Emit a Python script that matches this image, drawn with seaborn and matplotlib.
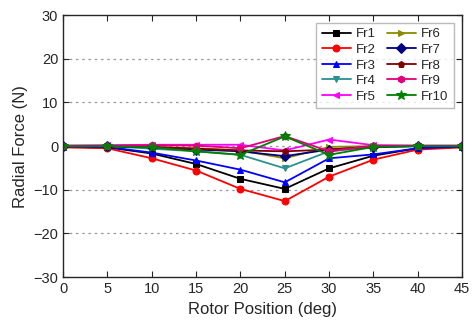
import numpy as np
import pandas as pd
import seaborn as sns
import matplotlib
matplotlib.use("Agg")
import matplotlib.pyplot as plt

# =========================
# DATA
# =========================
positions = [0, 5, 10, 15, 20, 25, 30, 35, 40, 45]

fr1 = [-0.2, -0.3, -1.7, -4.1, -7.5, -9.8, -5.1, -2.2, -0.5, -0.2]
fr2 = [-0.3, -0.5, -2.8, -5.6, -9.8, -12.6, -7.0, -3.1, -0.8, -0.3]
fr3 = [-0.1, -0.2, -1.5, -3.3, -5.4, -8.3, -2.8, -1.9, -0.5, -0.1]
fr4 = [0.0, 0.0, -0.6, -1.2, -2.0, -5.1, -1.2, -0.3, 0.0, 0.0]
fr5 = [0.1, 0.2, 0.3, 0.3, 0.3, -1.0, 1.5, 0.2, 0.1, 0.1]
fr6 = [0.0, 0.0, -0.2, -0.5, -1.0, -2.8, -0.2, 0.0, 0.0, 0.0]
fr7 = [0.0, 0.0, -0.3, -0.8, -1.2, -2.3, -0.8, -0.2, 0.0, 0.0]
fr8 = [0.0, 0.0, -0.2, -0.6, -1.0, -1.2, -0.8, -0.1, 0.0, 0.0]
fr9 = [0.1, 0.1, 0.2, 0.1, -0.5, 2.3, -1.2, 0.1, 0.1, 0.1]
fr10 = [0.0, 0.0, -0.3, -1.2, -2.0, 2.2, -2.0, -0.2, 0.0, 0.0]

names = ["Fr1", "Fr2", "Fr3", "Fr4", "Fr5", "Fr6", "Fr7", "Fr8", "Fr9", "Fr10"]
series = [fr1, fr2, fr3, fr4, fr5, fr6, fr7, fr8, fr9, fr10]
colors = ["black", "#ff0000", "#0000ff", "#2a9090", "#ff00ff",
          "#8a8a00", "#000080", "#800000", "#e0007a", "#008000"]
markers = ["s", "o", "^", "v", "<", ">", "D", "p", "h", "*"]

df = pd.DataFrame({"pos": positions * len(names),
                   "force": np.concatenate(series),
                   "name": np.repeat(names, len(positions))})

# =========================
# PLOT
# =========================
sns.set_style("ticks")
plt.rcParams['font.family'] = ['Liberation Sans', 'DejaVu Sans']

fig = plt.figure(figsize=(4.74, 3.2), dpi=100)
ax = fig.add_axes([0.133, 0.134, 0.842, 0.819])

for name, c, m in zip(names, colors, markers):
    sns.lineplot(data=df[df["name"] == name], x="pos", y="force", ax=ax,
                 color=c, marker=m, markersize=5 if m != "*" else 7,
                 markeredgecolor=c, linewidth=1.3, label=name)

ax.set_xlim(0, 45)
ax.set_ylim(-30, 30)
ax.set_xticks(positions)
ax.set_yticks([-30, -20, -10, 0, 10, 20, 30])
for yv in [-20, -10, 0, 10, 20]:
    ax.axhline(yv, color="#999999", linestyle=(0, (2, 3)), linewidth=0.9, zorder=0)

ax.tick_params(direction="in", top=True, right=True, labelsize=10.5, length=4)
ax.set_xlabel("Rotor Position (deg)", fontsize=12)
ax.set_ylabel("Radial Force (N)", fontsize=12)
for sp in ax.spines.values():
    sp.set_linewidth(1.0)

ax.legend(loc="upper right", ncol=2, fontsize=9.5, frameon=True, fancybox=False,
          edgecolor="#aaaaaa", handlelength=2.2, columnspacing=0.8,
          labelspacing=0.25, borderpad=0.4, handletextpad=0.4,
          bbox_to_anchor=(0.995, 0.995))

plt.savefig("out.png", dpi=100)
